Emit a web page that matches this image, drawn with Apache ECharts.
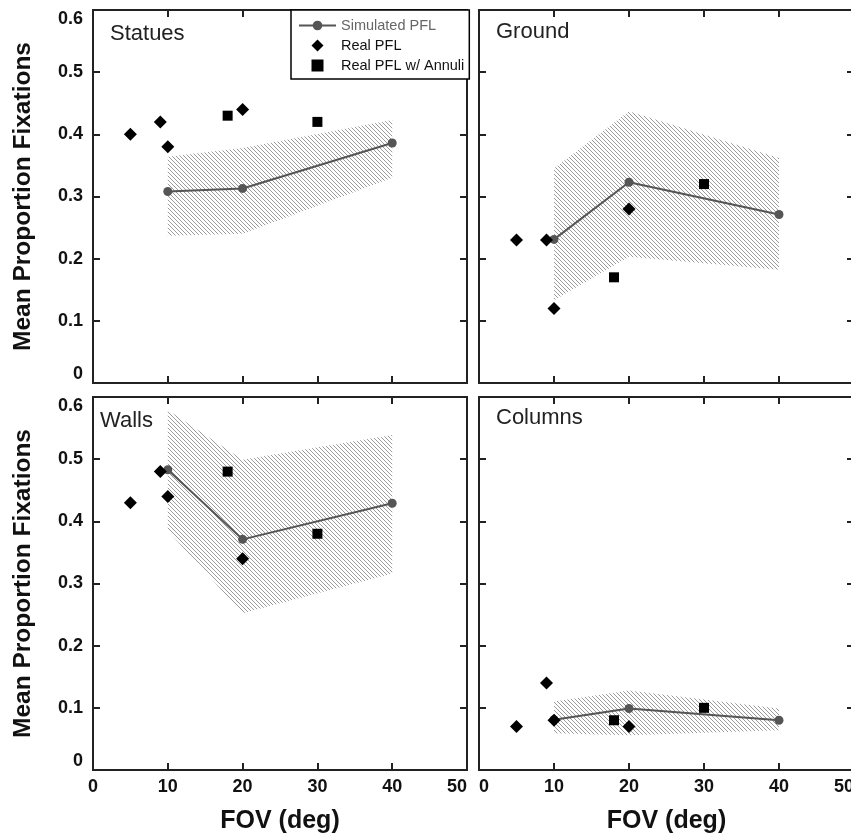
<!DOCTYPE html>
<html>
<head>
<meta charset="utf-8">
<script src="https://cdn.jsdelivr.net/npm/echarts@6/dist/echarts.min.js"></script>
<style>
  html, body { margin: 0; padding: 0; background: #fff; }
  #chart { width: 851px; height: 834px; }
</style>
</head>
<body>
<div id="chart"></div>
<script>
// fov values (deg)
const simX = [10, 20, 40];
const realX = [5, 9, 10, 20];
const annuliX = [18, 30];

// Statues
const statuesSim = [0.308, 0.313, 0.386];
const statuesLow = [0.237, 0.240, 0.330];
const statuesHigh = [0.364, 0.378, 0.423];
const statuesReal = [0.40, 0.42, 0.38, 0.44];
const statuesAnnuli = [0.43, 0.42];

// Ground
const groundSim = [0.231, 0.323, 0.271];
const groundLow = [0.133, 0.203, 0.182];
const groundHigh = [0.345, 0.437, 0.362];
const groundReal = [0.23, 0.23, 0.12, 0.28];
const groundAnnuli = [0.17, 0.32];

// Walls
const wallsSim = [0.483, 0.371, 0.429];
const wallsLow = [0.385, 0.252, 0.316];
const wallsHigh = [0.579, 0.499, 0.539];
const wallsReal = [0.43, 0.48, 0.44, 0.34];
const wallsAnnuli = [0.48, 0.38];

// Columns
const columnsSim = [0.081, 0.099, 0.080];
const columnsLow = [0.059, 0.056, 0.064];
const columnsHigh = [0.110, 0.128, 0.099];
const columnsReal = [0.07, 0.14, 0.08, 0.07];
const columnsAnnuli = [0.08, 0.10];

const panelNames = ['Statues', 'Ground', 'Walls', 'Columns'];
const yTicks = [0, 0.1, 0.2, 0.3, 0.4, 0.5, 0.6];
const xTicks = [0, 10, 20, 30, 40, 50];

const panels = [
  { sim: statuesSim, low: statuesLow, high: statuesHigh, real: statuesReal, annuli: statuesAnnuli },
  { sim: groundSim, low: groundLow, high: groundHigh, real: groundReal, annuli: groundAnnuli },
  { sim: wallsSim, low: wallsLow, high: wallsHigh, real: wallsReal, annuli: wallsAnnuli },
  { sim: columnsSim, low: columnsLow, high: columnsHigh, real: columnsReal, annuli: columnsAnnuli }
];

const grids = [
  { left: 93, top: 10, width: 374, height: 373 },
  { left: 479, top: 10, width: 375, height: 373 },
  { left: 93, top: 397, width: 374, height: 373 },
  { left: 479, top: 397, width: 375, height: 373 }
];
const titlePos = [[110, 23], [496, 21], [100, 410], [496, 407]];

// hatch pattern for the simulated range band
const hatch = document.createElement('canvas');
hatch.width = 4; hatch.height = 4;
const hctx = hatch.getContext('2d');
hctx.strokeStyle = '#9a9a9a';
hctx.lineWidth = 1;
hctx.beginPath();
hctx.moveTo(0, 0); hctx.lineTo(4, 4);
hctx.moveTo(-1, 3); hctx.lineTo(1, 5);
hctx.moveTo(3, -1); hctx.lineTo(5, 1);
hctx.stroke();

const font = 'Liberation Sans, Arial, sans-serif';
const axisColor = '#222';

const chartDom = document.getElementById('chart');
const myChart = echarts.init(chartDom);

let xAxes = [], yAxes = [], series = [], titles = [];

grids.forEach((g, i) => {
  const bottomRow = i >= 2;
  const leftCol = i % 2 === 0;
  const tick = () => ({ show: true, inside: true, length: 7, lineStyle: { color: axisColor, width: 2 } });
  const line = () => ({ show: false, onZero: false });

  xAxes.push({
    gridIndex: i, type: 'value', position: 'bottom',
    min: xTicks[0], max: xTicks[xTicks.length - 1], interval: 10,
    axisLine: line(), axisTick: tick(), splitLine: { show: false },
    axisLabel: {
      show: bottomRow, color: '#111', fontFamily: font, fontWeight: 'bold', fontSize: 18, margin: 8,
      alignMinLabel: leftCol ? 'center' : 'left',
      alignMaxLabel: 'right'
    },
    name: bottomRow ? 'FOV (deg)' : '', nameLocation: 'middle', nameGap: 39,
    nameTextStyle: { color: '#111', fontFamily: font, fontWeight: 'bold', fontSize: 25 }
  });
  xAxes.push({
    gridIndex: i, type: 'value', position: 'top',
    min: 0, max: 50, interval: 10,
    axisLine: line(), axisTick: tick(), splitLine: { show: false },
    axisLabel: { show: false }
  });
  yAxes.push({
    gridIndex: i, type: 'value', position: 'left',
    min: yTicks[0], max: yTicks[yTicks.length - 1], interval: 0.1,
    axisLine: line(), axisTick: tick(), splitLine: { show: false },
    axisLabel: {
      show: leftCol, color: '#111', fontFamily: font, fontWeight: 'bold', fontSize: 18, margin: 10,
      verticalAlignMinLabel: 'bottom', verticalAlignMaxLabel: 'top'
    },
    name: leftCol ? 'Mean Proportion Fixations' : '', nameLocation: 'middle', nameGap: 57,
    nameTextStyle: { color: '#111', fontFamily: font, fontWeight: 'bold', fontSize: 24.5 }
  });
  yAxes.push({
    gridIndex: i, type: 'value', position: 'right',
    min: 0, max: 0.6, interval: 0.1,
    axisLine: line(), axisTick: tick(), splitLine: { show: false },
    axisLabel: { show: false }
  });

  titles.push({
    text: panelNames[i], left: titlePos[i][0], top: titlePos[i][1], padding: 0,
    textStyle: { color: '#222', fontFamily: font, fontWeight: 'normal', fontSize: 22 }
  });

  const p = panels[i];
  const xi = i * 2, yi = i * 2;

  series.push({
    name: 'band', type: 'custom', xAxisIndex: xi, yAxisIndex: yi, z: 1, silent: true,
    data: simX.map((x, k) => [x, p.low[k], p.high[k]]),
    renderItem: (params, api) => {
      if (params.dataIndex > 0) return null;
      const pts = [];
      simX.forEach((x, k) => pts.push(api.coord([x, p.high[k]])));
      for (let k = simX.length - 1; k >= 0; k--) pts.push(api.coord([simX[k], p.low[k]]));
      return {
        type: 'polygon', shape: { points: pts },
        style: { fill: { image: hatch, repeat: 'repeat' }, stroke: null }
      };
    }
  });
  series.push({
    name: 'Simulated PFL', type: 'line', xAxisIndex: xi, yAxisIndex: yi, z: 3,
    data: simX.map((x, k) => [x, p.sim[k]]),
    symbol: 'circle', symbolSize: 9,
    itemStyle: { color: '#555' }, lineStyle: { color: '#555', width: 2 }
  });
  series.push({
    name: 'Real PFL', type: 'scatter', xAxisIndex: xi, yAxisIndex: yi, z: 4,
    data: realX.map((x, k) => [x, p.real[k]]),
    symbol: 'diamond', symbolSize: 13, itemStyle: { color: '#000', opacity: 1 }
  });
  series.push({
    name: 'Real PFL w/ Annuli', type: 'scatter', xAxisIndex: xi, yAxisIndex: yi, z: 4,
    data: annuliX.map((x, k) => [x, p.annuli[k]]),
    symbol: 'rect', symbolSize: 10, itemStyle: { color: '#000', opacity: 1 }
  });
});

const option = {
  animation: false,
  backgroundColor: '#fff',
  title: titles,
  grid: grids.map(g => Object.assign({
    show: true, borderColor: axisColor, borderWidth: 2, backgroundColor: 'transparent',
    outerBoundsMode: 'none', containLabel: false
  }, g)),
  xAxis: xAxes,
  yAxis: yAxes,
  legend: {
    left: 291, top: 10, orient: 'vertical',
    padding: [8, 5, 6, 7], itemGap: 5, itemWidth: 37, itemHeight: 12,
    symbolKeepAspect: true,
    borderColor: '#000', borderWidth: 1.5, backgroundColor: '#fff',
    textStyle: { fontFamily: font, fontSize: 14.5, color: '#111' },
    data: [
      { name: 'Simulated PFL', textStyle: { color: '#666' } },
      { name: 'Real PFL', icon: 'path://M0,-6L6,0L0,6L-6,0Z' },
      { name: 'Real PFL w/ Annuli', icon: 'path://M0,0H10V10H0Z' }
    ]
  },
  series: series
};

myChart.setOption(option);
</script>
</body>
</html>
